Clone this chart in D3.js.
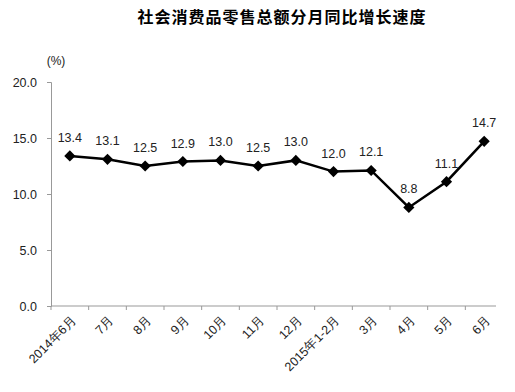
<!DOCTYPE html>
<html>
<head>
<meta charset="utf-8">
<script src="https://cdn.jsdelivr.net/npm/d3@7"></script>
<style>
  body { margin: 0; background: #fff; }
  text { font-family: "Liberation Sans", Arial, sans-serif; }
</style>
</head>
<body>
<svg id="chart"></svg>
<script>
// data
const months = ["2014年6月", "7月", "8月", "9月", "10月", "11月", "12月", "2015年1-2月", "3月", "4月", "5月", "6月"];
const growth = [13.4, 13.1, 12.5, 12.9, 13.0, 12.5, 13.0, 12.0, 12.1, 8.8, 11.1, 14.7];
const yTicks = [0, 5, 10, 15, 20];

const width = 515, height = 392;
const margin = {top: 82, right: 12, bottom: 86, left: 51};

const svg = d3.select("#chart")
  .attr("width", width)
  .attr("height", height);

svg.append("text")
  .attr("x", 282)
  .attr("y", 23)
  .attr("text-anchor", "middle")
  .style("font-family", "'Noto Sans CJK SC'")
  .style("font-weight", "bold")
  .style("font-size", "16px")
  .style("letter-spacing", "1px")
  .text("社会消费品零售总额分月同比增长速度");

const x = d3.scaleBand()
  .domain(months)
  .range([margin.left, width - margin.right]);

const y = d3.scaleLinear()
  .domain([0, 20])
  .range([height - margin.bottom, margin.top]);

// y axis
const yAxis = svg.append("g")
  .attr("transform", `translate(${margin.left},0)`)
  .call(d3.axisLeft(y).tickValues(yTicks).tickFormat(d3.format(".1f")).tickSize(4).tickPadding(10));
yAxis.select(".domain").attr("stroke", "#999");
yAxis.selectAll(".tick line").attr("stroke", "#999");
yAxis.selectAll(".tick text").attr("fill", "#222").style("font-size", "12.5px");

svg.append("text")
  .attr("x", 56)
  .attr("y", 65)
  .attr("text-anchor", "middle")
  .attr("fill", "#222")
  .style("font-size", "12px")
  .text("(%)");

// x axis
const xAxis = svg.append("g")
  .attr("transform", `translate(0,${height - margin.bottom})`)
  .call(d3.axisBottom(x).tickSize(0).tickFormat(""));
xAxis.select(".domain")
  .attr("stroke", "#999")
  .attr("d", `M${margin.left},0H${width - margin.right - 7}`);

// boundary ticks between categories
svg.append("g")
  .selectAll("line")
  .data(months)
  .join("line")
  .attr("x1", d => x(d))
  .attr("x2", d => x(d))
  .attr("y1", height - margin.bottom)
  .attr("y2", height - margin.bottom + 4)
  .attr("stroke", "#999");

svg.append("g")
  .selectAll("text")
  .data(months)
  .join("text")
  .attr("transform", d => `translate(${x(d) + x.bandwidth() / 2 + 4},${height - margin.bottom + 12}) rotate(-45)`)
  .attr("text-anchor", "end")
  .attr("dy", "0.35em")
  .attr("fill", "#222")
  .style("font-size", "12.5px")
  .text(d => d);

// line
const cx = d => x(d) + x.bandwidth() / 2;
const line = d3.line()
  .x((d, i) => cx(months[i]))
  .y(d => y(d));

svg.append("path")
  .datum(growth)
  .attr("fill", "none")
  .attr("stroke", "#000")
  .attr("stroke-width", 2.5)
  .attr("d", line);

svg.append("g")
  .selectAll("path")
  .data(growth)
  .join("path")
  .attr("transform", (d, i) => `translate(${cx(months[i])},${y(d)})`)
  .attr("d", d3.symbol(d3.symbolDiamond2, 80)())
  .attr("fill", "#000");

svg.append("g")
  .selectAll("text")
  .data(growth)
  .join("text")
  .attr("x", (d, i) => cx(months[i]))
  .attr("y", d => y(d) - 14)
  .attr("text-anchor", "middle")
  .attr("fill", "#222")
  .style("font-size", "12.5px")
  .text(d => d.toFixed(1));
</script>
</body>
</html>
